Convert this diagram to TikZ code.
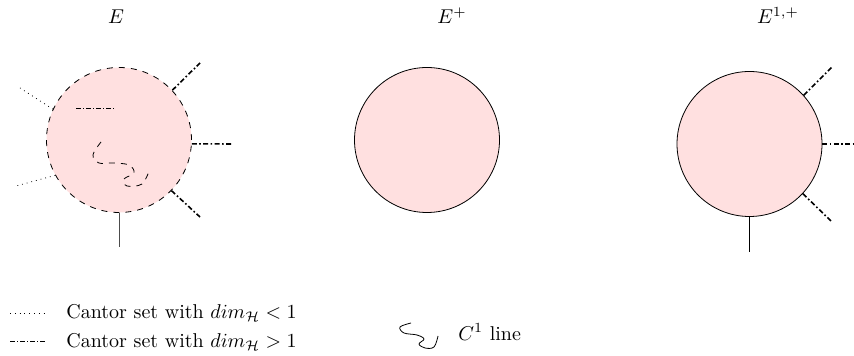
\documentclass[tikz,border=0pt]{standalone}
\usetikzlibrary{calc}
\definecolor{pinkfill}{RGB}{255,224,224}
\begin{document}
\begin{tikzpicture}[x=0.5pt,y=-0.5pt,
  ball/.style={circle,draw=black,fill=pinkfill,minimum size=72.5pt,inner sep=0pt},
  dd/.style={dash pattern=on 2.5pt off 1.2pt on 0.8pt off 1.2pt,line width=0.8pt},
  ddthin/.style={dash pattern=on 2.5pt off 1pt on 0.5pt off 1pt,line width=0.5pt},
  dotline/.style={dotted,line width=0.4pt},
  title/.style={anchor=base,inner sep=0pt}]
\useasboundingbox (0,0) rectangle (854,356);
% titles
\node[title] (tE) at (116,24) {$E$};
\node[title] (tEp) at (452,24) {$E^{+}$};
\node[title] (tE1p) at (778,24) {$E^{1,+}$};
% balls
\node[ball,dashed] (L) at (119,140) {};
\node[ball] (M) at (427,140) {};
\node[ball] (R) at (749.5,144) {};
% left ball connectors
\coordinate (Lul) at (20,88);
\coordinate (Lll) at (16,186);
\coordinate (Lur) at (200,63);
\coordinate (Lr) at (232,144);
\coordinate (Llr) at (200,217);
\coordinate (Lb) at (119,247);
\draw[dotline] (L.155) -- (Lul);
\draw[dotline] (L.209) -- (Lll);
\draw[dd] (L.43) -- (Lur);
\draw[dd] (L.-3) -- (Lr);
\draw[dd] (L.-44) -- (Llr);
\draw[black!70] (L.south) -- (Lb);
% inside
\coordinate (Ia) at (76,109);
\coordinate (Ib) at (115,109);
\draw[ddthin] (Ia) -- (Ib);
\draw[dashed] plot[smooth,tension=0.6] coordinates {(101,142) (93,155) (99,163) (113,163) (129,165) (134,173) (124,179) (127,186) (142,184) (149,171)};
% right ball connectors
\coordinate (Rur) at (832,67);
\coordinate (Rr) at (853,144);
\coordinate (Rlr) at (832,222);
\coordinate (Rb) at (749.5,252);
\draw[dd] (R.42) -- (Rur);
\draw[dd] (R.0) -- (Rr);
\draw[dd] (R.-43) -- (Rlr);
\draw (R.south) -- (Rb);
% legend
\coordinate (g1a) at (10,313);
\coordinate (g1b) at (45,313);
\coordinate (g2a) at (10,342);
\coordinate (g2b) at (45,342);
\draw[dotline] (g1a) -- (g1b);
\draw[ddthin] (g2a) -- (g2b);
\node[anchor=west,inner sep=0pt] (l1) at (66,313) {Cantor set with $dim_{\mathcal{H}} < 1$};
\node[anchor=west,inner sep=0pt] (l2) at (66,342) {Cantor set with $dim_{\mathcal{H}} > 1$};
\draw plot[smooth,tension=0.6] coordinates {(411,323) (400,327) (404,333) (417,335) (424,339) (419,344) (425,348) (434,347) (438,336)};
\node[anchor=west,inner sep=0pt] (l3) at (458,332) {$C^{1}$ line};
\end{tikzpicture}
\end{document}
